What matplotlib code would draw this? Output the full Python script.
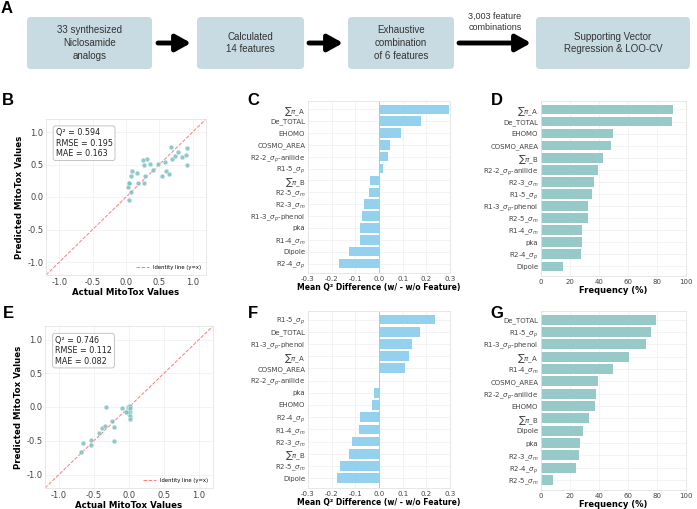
import numpy as np
import matplotlib
matplotlib.use("Agg")
import matplotlib.pyplot as plt
from matplotlib.patches import FancyBboxPatch

W, H = 697, 509

# panel A flow
flow_boxes = ["33 synthesized\nNiclosamide\nanalogs", "Calculated\n14 features",
              "Exhaustive\ncombination\nof 6 features", "Supporting Vector\nRegression & LOO-CV"]
flow_arrow_label = "3,003 feature\ncombinations"

# panel B (full set)
b_actual = [0.03, 0.04, 0.05, 0.05, 0.07, 0.08, 0.09, 0.17, 0.18, 0.25, 0.27, 0.27, 0.29,
            0.31, 0.36, 0.41, 0.48, 0.54, 0.58, 0.60, 0.65, 0.67, 0.69, 0.74, 0.78, 0.84,
            0.90, 0.92, 0.91]
b_pred = [0.15, 0.21, 0.21, -0.05, 0.08, 0.32, 0.40, 0.37, 0.22, 0.57, 0.50, 0.22, 0.32,
          0.59, 0.51, 0.42, 0.51, 0.32, 0.54, 0.40, 0.36, 0.77, 0.59, 0.63, 0.69, 0.61,
          0.65, 0.75, 0.50]
b_stats = "Q² = 0.594\nRMSE = 0.195\nMAE = 0.163"

# panel E
e_actual = [-0.69, -0.66, -0.54, -0.55, -0.43, -0.39, -0.34, -0.33, -0.24, -0.22, -0.22,
            -0.10, -0.03, -0.01, 0.00, 0.01, 0.00, 0.01, 0.00, 0.01, 0.01, -0.02, -0.05, 0.02]
e_pred = [-0.66, -0.53, -0.49, -0.56, -0.38, -0.31, -0.28, 0.00, -0.21, -0.29, -0.51,
          -0.01, -0.06, 0.00, 0.02, 0.01, -0.04, -0.07, -0.11, -0.14, -0.18, -0.07, -0.08, -0.02]
e_stats = "Q² = 0.746\nRMSE = 0.112\nMAE = 0.082"

# panel C
c_features = [r"$\sum\pi$_A", "De_TOTAL", "EHOMO", "COSMO_AREA", r"R2-2_$\sigma_p$-anilide",
              r"R1-5_$\sigma_p$", r"$\sum\pi$_B", r"R2-5_$\sigma_m$", r"R2-3_$\sigma_m$",
              r"R1-3_$\sigma_p$-phenol", "pka", r"R1-4_$\sigma_m$", "Dipole", r"R2-4_$\sigma_p$"]
c_values = [0.296, 0.178, 0.091, 0.048, 0.038, 0.017, -0.037, -0.043, -0.064, -0.071,
            -0.079, -0.081, -0.128, -0.168]

# panel D
d_features = [r"$\sum\pi$_A", "De_TOTAL", "EHOMO", "COSMO_AREA", r"$\sum\pi$_B",
              r"R2-2_$\sigma_p$-anilide", r"R2-3_$\sigma_m$", r"R1-5_$\sigma_p$",
              r"R1-3_$\sigma_p$-phenol", r"R2-5_$\sigma_m$", r"R1-4_$\sigma_m$", "pka",
              r"R2-4_$\sigma_p$", "Dipole"]
d_values = [90.8, 90.1, 49.8, 48.2, 42.6, 39.6, 36.4, 35.5, 32.5, 32.5, 28.6, 28.3, 27.9, 15.2]

# panel F
f_features = [r"R1-5_$\sigma_p$", "De_TOTAL", r"R1-3_$\sigma_p$-phenol", r"$\sum\pi$_A",
              "COSMO_AREA", r"R2-2_$\sigma_p$-anilide", "pka", "EHOMO", r"R2-4_$\sigma_p$",
              r"R1-4_$\sigma_m$", r"R2-3_$\sigma_m$", r"$\sum\pi$_B", r"R2-5_$\sigma_m$", "Dipole"]
f_values = [0.238, 0.172, 0.140, 0.128, 0.108, 0.003, -0.022, -0.028, -0.081, -0.083,
            -0.114, -0.126, -0.164, -0.178]

# panel G
g_features = ["De_TOTAL", r"R1-5_$\sigma_p$", r"R1-3_$\sigma_p$-phenol", r"$\sum\pi$_A",
              r"R1-4_$\sigma_m$", "COSMO_AREA", r"R2-2_$\sigma_p$-anilide", "EHOMO",
              r"$\sum\pi$_B", "Dipole", "pka", r"R2-3_$\sigma_m$", r"R2-4_$\sigma_p$",
              r"R2-5_$\sigma_m$"]
g_values = [79.3, 76.0, 72.4, 60.8, 49.8, 39.4, 38.2, 37.1, 33.0, 29.0, 26.7, 26.0, 24.0, 8.3]

plt.rcParams['font.family'] = ['DejaVu Sans']
plt.rcParams['mathtext.fontset'] = 'dejavusans'

fig = plt.figure(figsize=(W / 100, H / 100), dpi=100)


def px_axes(x0, y0, x1, y1, **kw):
    return fig.add_axes([x0 / W, 1 - y1 / H, (x1 - x0) / W, (y1 - y0) / H], **kw)


def style(ax):
    ax.set_facecolor("white")
    ax.grid(True, color="#efefef", lw=0.5)
    ax.set_axisbelow(True)
    for s in ax.spines.values():
        s.set_color("#e3e3e3")
        s.set_linewidth(0.6)
    ax.tick_params(length=0, labelsize=5, colors="#444444", pad=2)


# overlay for panel A and letters
ov = px_axes(0, 0, W, H)
ov.set_xlim(0, W)
ov.set_ylim(H, 0)
ov.axis("off")

box_x = [(27, 152), (197, 304), (348, 454), (536, 690)]
for (x0, x1), txt in zip(box_x, flow_boxes):
    ov.add_patch(FancyBboxPatch((x0, 17), x1 - x0, 52, boxstyle="round,pad=0,rounding_size=4",
                                fc="#c8dbe2", ec="none"))
    ov.text((x0 + x1) / 2, 43, txt, ha="center", va="center", fontsize=7,
            family="Liberation Sans", color="#333333", linespacing=1.35)

for x0, x1 in [(158, 191), (309, 343), (459, 531)]:
    ov.annotate("", xy=(x1, 43), xytext=(x0, 43),
                arrowprops=dict(arrowstyle="-|>,head_width=0.5,head_length=0.9",
                                lw=3.5, color="black", shrinkA=0, shrinkB=0))
ov.text(495, 22, flow_arrow_label, ha="center", va="center", fontsize=6.5,
        family="Liberation Sans", color="#333333", linespacing=1.2)

for letter, (x, y) in {"A": (7, 8), "B": (8, 100), "C": (253, 100), "D": (497, 100),
                       "E": (8, 313), "F": (253, 313), "G": (497, 313)}.items():
    ov.text(x, y, letter, ha="center", va="center", fontsize=12, fontweight="bold",
            family="Liberation Sans")


def scatter_panel(ax, actual, pred, stats):
    style(ax)
    ax.scatter(actual, pred, s=12, color="#7cc0c0", alpha=0.85, edgecolors="white",
               linewidths=0.3, zorder=3)
    ax.plot([-1.2, 1.2], [-1.2, 1.2], ls="--", color="#ff5a5a", lw=0.7, alpha=0.8,
            label="Identity line (y=x)", zorder=2)
    ax.set_xlim(-1.2, 1.2)
    ax.set_ylim(-1.2, 1.2)
    ticks = [-1.0, -0.5, 0.0, 0.5, 1.0]
    ax.set_xticks(ticks)
    ax.set_yticks(ticks)
    ax.set_xticklabels([f"{t:.1f}" for t in ticks])
    ax.set_yticklabels([f"{t:.1f}" for t in ticks])
    ax.tick_params(labelsize=6)
    ax.set_xlabel("Actual MitoTox Values", fontsize=6.2, fontweight="bold", labelpad=1)
    ax.set_ylabel("Predicted MitoTox Values", fontsize=6.2, fontweight="bold", labelpad=2)
    ax.text(0.06, 0.94, stats, transform=ax.transAxes, va="top", ha="left", fontsize=5.8,
            color="#222222",
            bbox=dict(boxstyle="round,pad=0.3", fc="white", ec="#bbbbbb", lw=0.6))
    ax.legend(loc="lower right", fontsize=3.8, frameon=False, handlelength=2.5)


def diff_panel(ax, feats, vals):
    style(ax)
    y = np.arange(len(feats))
    ax.barh(y, vals, height=0.8, color="#93d1ee", zorder=2)
    ax.axvline(0, color="#bbbbbb", lw=0.6, zorder=1)
    ax.set_yticks(y)
    ax.set_yticklabels(feats)
    ax.set_ylim(len(feats) - 0.2, -0.7)
    ax.set_xlim(-0.3, 0.3)
    ax.set_xticks([-0.3, -0.2, -0.1, 0.0, 0.1, 0.2, 0.3])
    ax.set_xticklabels(["-0.3", "-0.2", "-0.1", "0.0", "0.1", "0.2", "0.3"])
    ax.set_xlabel("Mean Q² Difference (w/ - w/o Feature)", fontsize=5.5, fontweight="bold",
                  labelpad=1)


def freq_panel(ax, feats, vals):
    style(ax)
    y = np.arange(len(feats))
    ax.barh(y, vals, height=0.8, color="#97c9c8", zorder=2)
    ax.set_yticks(y)
    ax.set_yticklabels(feats)
    ax.set_ylim(len(feats) - 0.2, -0.7)
    ax.set_xlim(0, 100)
    ax.set_xticks([0, 20, 40, 60, 80, 100])
    ax.set_xlabel("Frequency (%)", fontsize=6, fontweight="bold", labelpad=1)


scatter_panel(px_axes(46, 119, 206, 275), b_actual, b_pred, b_stats)
scatter_panel(px_axes(45, 326, 213, 488), e_actual, e_pred, e_stats)
diff_panel(px_axes(308, 101, 450, 273), c_features, c_values)
diff_panel(px_axes(308, 311, 450, 488), f_features, f_values)
freq_panel(px_axes(541, 101, 686, 276), d_features, d_values)
freq_panel(px_axes(541, 311, 686, 490), g_features, g_values)

fig.savefig("out.png", dpi=100)
